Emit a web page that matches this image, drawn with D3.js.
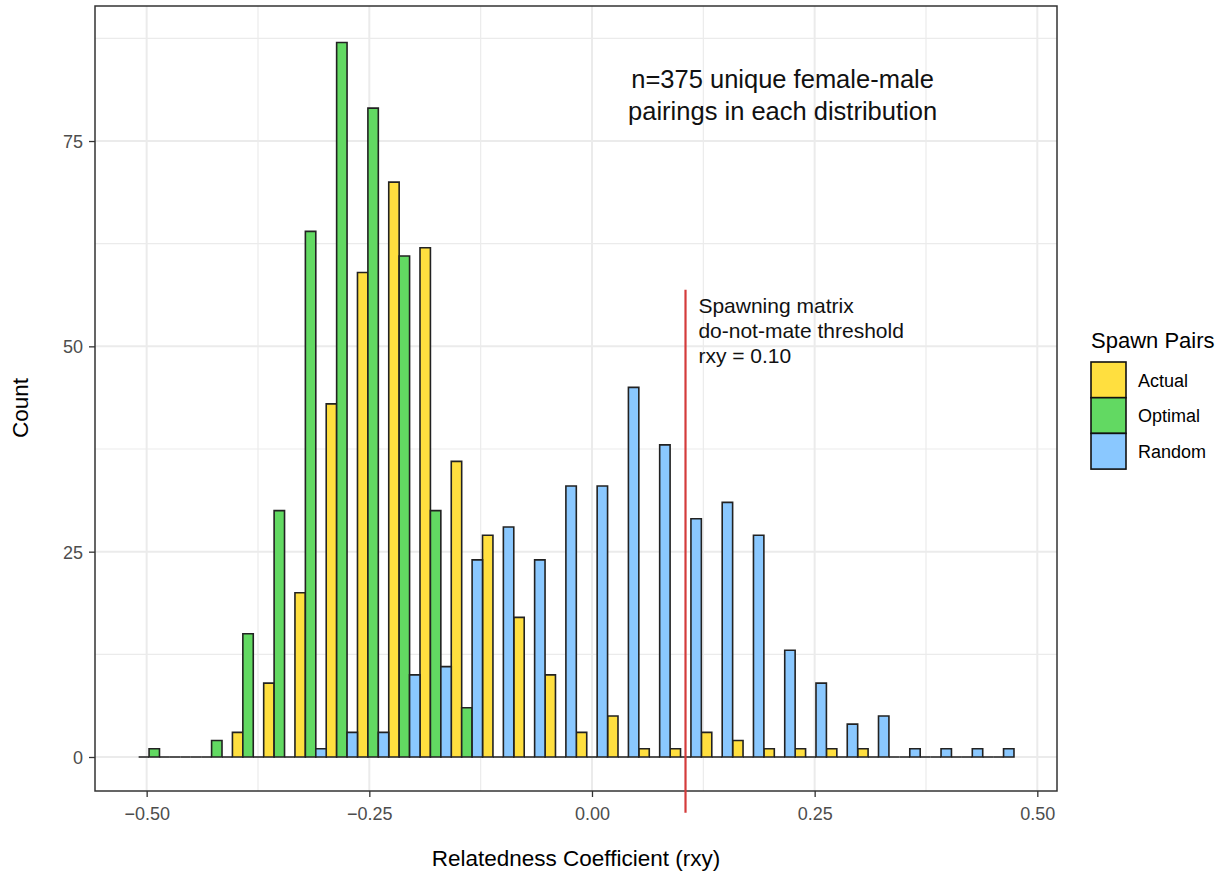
<!DOCTYPE html>
<html>
<head>
<meta charset="utf-8">
<script src="https://cdn.jsdelivr.net/npm/d3@7"></script>
<style>
  body { margin: 0; background: #fff; }
  svg { font-family: "Liberation Sans", Arial, Helvetica, sans-serif; }
  .axis .tick text { fill: #4d4d4d; font-size: 18px; }
  .axis .tick line { stroke: #333; stroke-width: 1.3; }
  .axis path.domain { display: none; }
  .grid-major { stroke: #ebebeb; stroke-width: 2; }
  .grid-minor { stroke: #ebebeb; stroke-width: 1.2; }
  .axis-title { font-size: 22.5px; fill: #000; }
  .note { fill: #111; }
</style>
</head>
<body>
<svg id="chart"></svg>
<script>
// histogram bins (28 bins, ggplot dodge of 3 groups per bin)
const binStart = -0.509
const binWidth = 0.0351

const groups = ['Actual', 'Optimal', 'Random']
const groupColors = ['#FFDF3F', '#62D962', '#8AC8FF']

const actualCounts  = [0, 0, 0, 3, 9, 20, 43, 59, 70, 62, 36, 27, 17, 10, 3, 5, 1, 1, 3, 2, 1, 1, 1, 1, 0, 0, 0, 0]
const optimalCounts = [1, 0, 2, 15, 30, 64, 87, 79, 61, 30, 6, 0, 0, 0, 0, 0, 0, 0, 0, 0, 0, 0, 0, 0, 0, 0, 0, 0]
const randomCounts  = [0, 0, 0, 0, 0, 1, 3, 3, 10, 11, 24, 28, 24, 33, 33, 45, 38, 29, 31, 27, 13, 9, 4, 5, 1, 1, 1, 1]

const xTicks = [-0.5, -0.25, 0, 0.25, 0.5]
const xMinor = [-0.375, -0.125, 0.125, 0.375]
const yTicks = [0, 25, 50, 75]
const yMinor = [12.5, 37.5, 62.5, 87.5]

const threshold = 0.105
const thresholdSpan = [-6.8, 56.9]
const thresholdLabel = ['Spawning matrix', 'do-not-mate threshold', 'rxy = 0.10']
const noteLabel = ['n=375 unique female-male', 'pairings in each distribution']

class DodgedHistogram {

    constructor(config) {
        this.config = {
            parentElement: config.parentElement,
            containerWidth: config.containerWidth || 1225,
            containerHeight: config.containerHeight || 873,
            panel: config.panel || {left: 95, right: 1057, top: 6, bottom: 791}
        }
        this.initVis()
    }

    initVis() {
        let vis = this
        let p = vis.config.panel

        vis.svg = d3.select(vis.config.parentElement)
            .attr('width', vis.config.containerWidth)
            .attr('height', vis.config.containerHeight)

        vis.xScale = d3.scaleLinear()
            .domain([-0.558, 0.5221])
            .range([p.left, p.right])

        vis.yScale = d3.scaleLinear()
            .domain([-4.14, 91.44])
            .range([p.bottom, p.top])

        vis.colorScale = d3.scaleOrdinal()
            .domain(groups)
            .range(groupColors)

        // grid
        vis.gridG = vis.svg.append('g')
        vis.gridG.selectAll('.gx-minor').data(xMinor).join('line')
            .attr('class', 'grid-minor')
            .attr('x1', d => vis.xScale(d)).attr('x2', d => vis.xScale(d))
            .attr('y1', p.top).attr('y2', p.bottom)
        vis.gridG.selectAll('.gy-minor').data(yMinor).join('line')
            .attr('class', 'grid-minor')
            .attr('y1', d => vis.yScale(d)).attr('y2', d => vis.yScale(d))
            .attr('x1', p.left).attr('x2', p.right)
        vis.gridG.selectAll('.gx-major').data(xTicks).join('line')
            .attr('class', 'grid-major')
            .attr('x1', d => vis.xScale(d)).attr('x2', d => vis.xScale(d))
            .attr('y1', p.top).attr('y2', p.bottom)
        vis.gridG.selectAll('.gy-major').data(yTicks).join('line')
            .attr('class', 'grid-major')
            .attr('y1', d => vis.yScale(d)).attr('y2', d => vis.yScale(d))
            .attr('x1', p.left).attr('x2', p.right)

        vis.barsG = vis.svg.append('g')

        vis.xAxisG = vis.svg.append('g')
            .attr('class', 'axis x-axis')
            .attr('transform', `translate(0,${p.bottom})`)
        vis.yAxisG = vis.svg.append('g')
            .attr('class', 'axis y-axis')
            .attr('transform', `translate(${p.left},0)`)

        vis.xAxis = d3.axisBottom(vis.xScale)
            .tickValues(xTicks)
            .tickFormat(d3.format('.2f'))
            .tickSize(6)
            .tickPadding(4)
        vis.yAxis = d3.axisLeft(vis.yScale)
            .tickValues(yTicks)
            .tickSize(6)
            .tickPadding(6)

        vis.svg.append('text')
            .attr('class', 'axis-title')
            .attr('x', (p.left + p.right) / 2)
            .attr('y', 866)
            .attr('text-anchor', 'middle')
            .text('Relatedness Coefficient (rxy)')

        vis.svg.append('text')
            .attr('class', 'axis-title')
            .attr('transform', 'translate(28,408) rotate(-90)')
            .attr('text-anchor', 'middle')
            .text('Count')
    }

    updateVis() {
        let vis = this
        let series = [actualCounts, optimalCounts, randomCounts]

        vis.bars = []
        series.forEach((counts, g) => {
            counts.forEach((c, i) => {
                let x0 = binStart + i * binWidth + g * binWidth / 3
                vis.bars.push({group: groups[g], x0: x0, x1: x0 + binWidth / 3, count: c})
            })
        })

        vis.renderVis()
    }

    renderVis() {
        let vis = this
        let p = vis.config.panel

        // paths instead of rects so empty bins still show their outline at 0
        vis.barsG.selectAll('path.bar')
            .data(vis.bars)
            .join('path')
            .attr('class', 'bar')
            .attr('d', d => {
                let xa = vis.xScale(d.x0), xb = vis.xScale(d.x1)
                let y0 = vis.yScale(0), y1 = vis.yScale(d.count)
                return `M${xa},${y0}V${y1}H${xb}V${y0}Z`
            })
            .attr('fill', d => vis.colorScale(d.group))
            .attr('stroke', '#222')
            .attr('stroke-width', 1.6)

        vis.xAxisG.call(vis.xAxis)
        vis.yAxisG.call(vis.yAxis)
        vis.xAxisG.selectAll('.tick text').attr('dy', '1.05em')
        vis.yAxisG.selectAll('.tick text').attr('dy', '0.36em')

        // panel border
        vis.svg.append('rect')
            .attr('x', p.left).attr('y', p.top)
            .attr('width', p.right - p.left).attr('height', p.bottom - p.top)
            .attr('fill', 'none')
            .attr('stroke', '#333')
            .attr('stroke-width', 1.5)

        // threshold line
        vis.svg.append('line')
            .attr('x1', vis.xScale(threshold)).attr('x2', vis.xScale(threshold))
            .attr('y1', vis.yScale(thresholdSpan[0])).attr('y2', vis.yScale(thresholdSpan[1]))
            .attr('stroke', '#D43B3B')
            .attr('stroke-width', 2.2)

        vis.svg.append('text')
            .attr('class', 'note')
            .attr('font-size', '21px')
            .selectAll('tspan').data(thresholdLabel).join('tspan')
            .attr('x', vis.xScale(0.1195))
            .attr('y', (d, i) => vis.yScale(54.1) + i * 25)
            .text(d => d)

        vis.svg.append('text')
            .attr('class', 'note')
            .attr('font-size', '25.5px')
            .attr('text-anchor', 'middle')
            .selectAll('tspan').data(noteLabel).join('tspan')
            .attr('x', vis.xScale(0.214))
            .attr('y', (d, i) => vis.yScale(81.5) + i * 32)
            .text(d => d)

        // legend
        let legend = vis.svg.append('g').attr('transform', 'translate(1091,362)')
        legend.append('text')
            .attr('x', 0).attr('y', -14)
            .attr('font-size', '22px')
            .text('Spawn Pairs')
        let keys = legend.selectAll('g.key').data(groups).join('g')
            .attr('class', 'key')
            .attr('transform', (d, i) => `translate(0,${i * 35.7})`)
        keys.append('rect')
            .attr('width', 35).attr('height', 35.7)
            .attr('fill', d => vis.colorScale(d))
            .attr('stroke', '#111')
            .attr('stroke-width', 1.6)
        keys.append('text')
            .attr('x', 47).attr('y', 24.5)
            .attr('font-size', '18px')
            .text(d => d)
    }
}

let chart = new DodgedHistogram({parentElement: '#chart'})
chart.updateVis()
</script>
</body>
</html>
